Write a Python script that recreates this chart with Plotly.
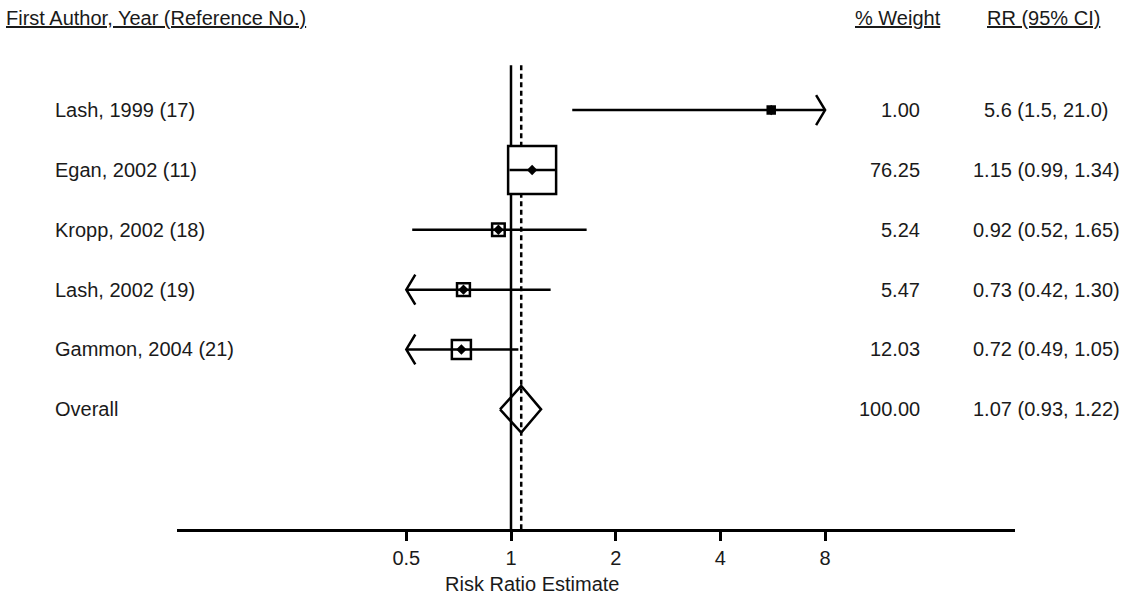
import math
import plotly.graph_objects as go

# ---------------- data ----------------
studies = ["Lash, 1999 (17)", "Egan, 2002 (11)", "Kropp, 2002 (18)",
           "Lash, 2002 (19)", "Gammon, 2004 (21)"]
rr = [5.6, 1.15, 0.92, 0.73, 0.72]
lo = [1.5, 0.99, 0.52, 0.42, 0.49]
hi = [21.0, 1.34, 1.65, 1.30, 1.05]
weight = [1.00, 76.25, 5.24, 5.47, 12.03]
weight_txt = ["1.00", "76.25", "5.24", "5.47", "12.03"]
ci_txt = ["5.6 (1.5, 21.0)", "1.15 (0.99, 1.34)", "0.92 (0.52, 1.65)",
          "0.73 (0.42, 1.30)", "0.72 (0.49, 1.05)"]

overall_label = "Overall"
overall_rr, overall_lo, overall_hi = 1.07, 0.93, 1.22
overall_weight_txt = "100.00"
overall_ci_txt = "1.07 (0.93, 1.22)"

tick_vals = [0.5, 1, 2, 4, 8]
tick_text = ["0.5", "1", "2", "4", "8"]
clip_lo, clip_hi = 0.5, 8.0

# ---------------- layout constants ----------------
W, H = 1124, 597
ML, MR, MT, MB = 177, 109, 0, 68
PW = W - ML - MR
PH = H - MT - MB
FONT = "Liberation Sans, Arial, Helvetica, sans-serif"
FS = 20
INK = "#1a1a1a"
LW = 2.5

rows = list(range(1, len(studies) + 1))
overall_row = len(studies) + 1
y_range = [8.0, -0.84]          # reversed: row 1 at top
line_top = 0.25
box_max = 48.0
box_min = 7.0
arrow_dx = 2 ** (-9 / 104.7)     # horizontal size of arrow heads (factor on log axis)
arrow_dy = 0.25                  # vertical half size of arrow heads (rows)
diamond_h = 0.39


def px_x(p):
    return (p - ML) / PW


def px_y(p):
    return 1 - (p - MT) / PH


fig = go.Figure()

# reference lines: no effect (solid) and overall estimate (dashed)
fig.add_trace(go.Scatter(x=[1, 1], y=[line_top, y_range[0]], mode="lines",
                         line=dict(color="black", width=LW), hoverinfo="skip"))
fig.add_trace(go.Scatter(x=[overall_rr, overall_rr], y=[line_top, y_range[0]], mode="lines",
                         line=dict(color="black", width=LW, dash="5px,3.5px"), hoverinfo="skip"))

# weight boxes (white filled, cover the reference lines)
wmax = max(weight)
sizes = [max(box_max * math.sqrt(w / wmax), box_min) for w in weight]
fig.add_trace(go.Scatter(x=rr, y=rows, mode="markers",
                         marker=dict(symbol="square", size=sizes, color="white", opacity=1,
                                     line=dict(color="black", width=LW)),
                         hoverinfo="skip"))

# confidence interval lines
cx, cy = [], []
for r, a, b in zip(rows, lo, hi):
    cx += [max(a, clip_lo), min(b, clip_hi), None]
    cy += [r, r, None]
fig.add_trace(go.Scatter(x=cx, y=cy, mode="lines",
                         line=dict(color="black", width=LW), hoverinfo="skip"))

# arrow heads for clipped intervals
ax_, ay_ = [], []
for r, a, b in zip(rows, lo, hi):
    if b > clip_hi:
        ax_ += [clip_hi * arrow_dx, clip_hi, clip_hi * arrow_dx, None]
        ay_ += [r - arrow_dy, r, r + arrow_dy, None]
    if a < clip_lo:
        ax_ += [clip_lo / arrow_dx, clip_lo, clip_lo / arrow_dx, None]
        ay_ += [r - arrow_dy, r, r + arrow_dy, None]
fig.add_trace(go.Scatter(x=ax_, y=ay_, mode="lines",
                         line=dict(color="black", width=LW), hoverinfo="skip"))

# point estimates
fig.add_trace(go.Scatter(x=rr, y=rows, mode="markers",
                         marker=dict(symbol="diamond", size=8, color="black", opacity=1),
                         hoverinfo="skip"))

# overall diamond
fig.add_trace(go.Scatter(
    x=[overall_lo, overall_rr, overall_hi, overall_rr, overall_lo],
    y=[overall_row, overall_row - diamond_h, overall_row, overall_row + diamond_h, overall_row],
    mode="lines", line=dict(color="black", width=LW), hoverinfo="skip"))

# ---------------- text ----------------
ann = []
label_x = px_x(53)
weight_x = px_x(922)
ci_x = px_x(1046)
all_labels = studies + [overall_label]
all_w = weight_txt + [overall_weight_txt]
all_ci = ci_txt + [overall_ci_txt]
all_rows = rows + [overall_row]
for r, lab, wt, ci in zip(all_rows, all_labels, all_w, all_ci):
    ann.append(dict(x=label_x, y=r, xref="paper", yref="y", text=lab,
                    xanchor="left", yanchor="middle", showarrow=False))
    ann.append(dict(x=weight_x, y=r, xref="paper", yref="y", text=wt,
                    xanchor="right", yanchor="middle", showarrow=False))
    ann.append(dict(x=ci_x, y=r, xref="paper", yref="y", text=ci,
                    xanchor="center", yanchor="middle", showarrow=False))

hy = px_y(18)
ann.append(dict(x=px_x(4), y=hy, xref="paper", yref="paper",
                text="<u>First Author, Year (Reference No.)</u>",
                xanchor="left", yanchor="middle", showarrow=False))
ann.append(dict(x=px_x(898), y=hy, xref="paper", yref="paper", text="<u>% Weight</u>",
                xanchor="center", yanchor="middle", showarrow=False))
ann.append(dict(x=px_x(1043), y=hy, xref="paper", yref="paper", text="<u>RR (95% CI)</u>",
                xanchor="center", yanchor="middle", showarrow=False))
ann.append(dict(x=px_x(532), y=px_y(596), xref="paper", yref="paper",
                text="Risk Ratio Estimate", xanchor="center", yanchor="bottom",
                showarrow=False, borderpad=0))

x_lo = -(511 - ML) / (104.7 / math.log10(2))
x_hi = (ML + PW - 511) / (104.7 / math.log10(2))

fig.update_layout(
    width=W, height=H,
    margin=dict(l=ML, r=MR, t=MT, b=MB, pad=0),
    paper_bgcolor="white", plot_bgcolor="white",
    showlegend=False,
    font=dict(family=FONT, size=FS, color=INK),
    annotations=ann,
    xaxis=dict(type="log", range=[x_lo, x_hi], tickvals=tick_vals, ticktext=tick_text,
               showline=True, linecolor="black", linewidth=2.7, ticks="outside",
               ticklen=9, tickwidth=2.5, tickcolor="black", showgrid=False, zeroline=False,
               tickfont=dict(size=FS, color=INK, family=FONT), fixedrange=True),
    yaxis=dict(range=y_range, visible=False, showgrid=False, zeroline=False, fixedrange=True),
)
for tr in fig.data:
    tr.cliponaxis = False

fig.write_html("out.html")
